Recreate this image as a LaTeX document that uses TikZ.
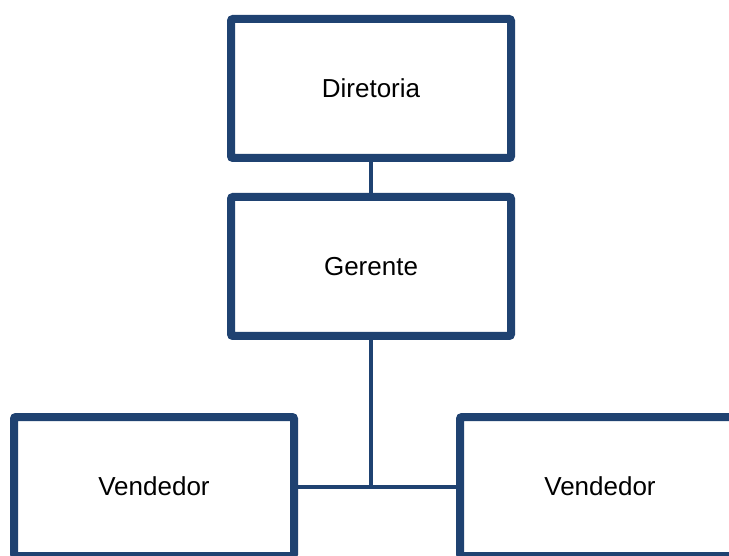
\documentclass[tikz,border=0pt]{standalone}
\usepackage{fontspec}
\setmainfont{Liberation Sans}
\usetikzlibrary{shadows}
\definecolor{boxblue}{RGB}{31,66,113}
\begin{document}
\begin{tikzpicture}[x=1pt,y=-1pt,
  orgbox/.style={draw=boxblue, line width=8pt, fill=white, rounded corners=2pt,
    minimum width=280pt, minimum height=139pt, inner sep=0pt,
    font=\fontsize{26}{31}\selectfont,
    drop shadow={shadow xshift=2pt, shadow yshift=-3pt, opacity=0.25, fill=black!60}},
  link/.style={draw=boxblue, line width=4pt}]
\useasboundingbox (0,0) rectangle (729,556);
\clip (0,0) rectangle (729,556);
\node[orgbox] (dir) at (371,88.5) {Diretoria};
\node[orgbox] (ger) at (371,266.5) {Gerente};
\node[orgbox] (v1) at (154,486.5) {Vendedor};
\node[orgbox] (v2) at (600,486.5) {Vendedor};
\coordinate (j) at (ger.south |- v1.east);
\draw[link] (dir.south) -- (ger.north);
\draw[link] (ger.south) -- (j);
\draw[link] (v1.east) -- (v2.west);
\end{tikzpicture}
\end{document}
